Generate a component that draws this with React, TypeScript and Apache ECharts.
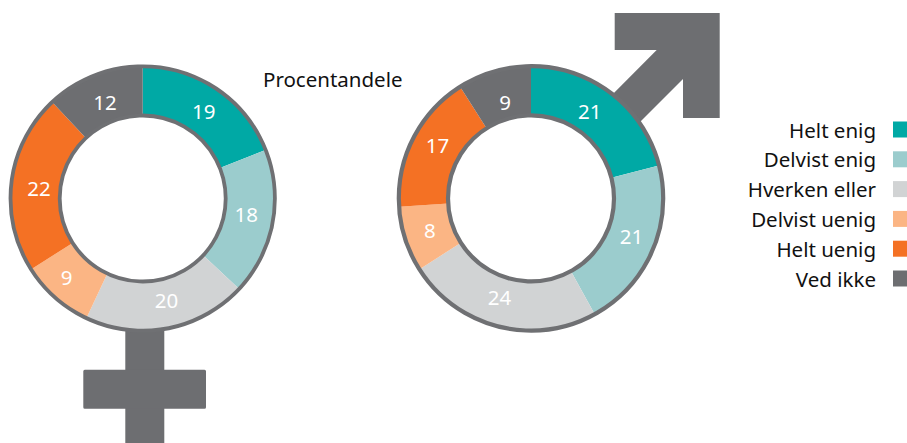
import React, { useEffect, useRef } from "react";
import * as echarts from "echarts";

const categories = ["Helt enig", "Delvist enig", "Hverken eller", "Delvist uenig", "Helt uenig", "Ved ikke"];
const womenValues = [19, 18, 20, 9, 22, 12];
const menValues = [21, 21, 24, 8, 17, 9];
const palette = ["#00A9A5", "#9BCCCD", "#D1D3D4", "#FBB584", "#F47124", "#6D6E71"];
const unitLabel = "Procentandele";

const womenNudges = [[-1, 4], [-5, -5], [3, -7], [-3, -4], [6, 3], [3, 6]];
const menNudges = [[-9, 0], [-1, -6], [-4, -8], [4, -3], [5, -3], [5, 10]];

const FONT = "'Noto Sans', sans-serif";
const W = 907;
const H = 443;
const GREY = "#6D6E71";
const RING = "#6F7073";
const leftC = [142.7, 198.5];
const rightC = [531, 198.4];

function pie(values: number[], center: number[], nudges: number[][]) {
  return {
    type: "pie",
    center,
    radius: [83, 132],
    startAngle: 90,
    clockwise: true,
    silent: true,
    color: palette,
    data: values.map((value, i) => ({ name: categories[i], value })),
    itemStyle: { borderWidth: 0 },
    label: {
      show: true,
      position: "inside",
      formatter: "{c}",
      color: "#FFFFFF",
      fontFamily: FONT,
      fontSize: 20.5,
    },
    labelLayout: (p: any) => ({ dx: nudges[p.dataIndex][0], dy: nudges[p.dataIndex][1] }),
    labelLine: { show: false },
    emphasis: { disabled: true },
  };
}

function ringCircles(c: number[], width: number) {
  return [132.2, 83].map((r) => ({
    type: "circle",
    z: 100,
    silent: true,
    shape: { cx: c[0], cy: c[1], r },
    style: { fill: "transparent", stroke: RING, lineWidth: width },
  }));
}

export default function App() {
  const ref = useRef<HTMLDivElement>(null);
  useEffect(() => {
    const chart = echarts.init(ref.current!, undefined, { renderer: "svg" });
    chart.setOption({
      animation: false,
      backgroundColor: "#FFFFFF",
      legend: {
        orient: "vertical",
        right: 0,
        top: 119,
        padding: 0,
        align: "right",
        selectedMode: false,
        icon: "rect",
        itemWidth: 14,
        itemHeight: 16,
        itemGap: 8.8,
        data: categories,
        textStyle: { fontFamily: FONT, fontSize: 20.5, color: "#111111", padding: [0, 12, 0, 0] },
      },
      series: [pie(womenValues, leftC, womenNudges), pie(menValues, rightC, menNudges)],
      graphic: {
        elements: [
          {
            type: "rect", z: 0, silent: true,
            shape: { x: 125.3, y: 325, width: 39, height: 118 },
            style: { fill: GREY },
          },
          {
            type: "rect", z: 0, silent: true,
            shape: { x: 83.3, y: 369.7, width: 122.7, height: 39, r: 1.5 },
            style: { fill: GREY },
          },
          {
            type: "polygon", z: 0, silent: true,
            shape: {
              points: [
                [614.7, 13], [719.7, 13], [719.7, 118], [683, 118], [683, 79],
                [625, 137], [598, 109], [656.7, 50], [614.7, 50],
              ],
            },
            style: { fill: GREY },
          },
          ...ringCircles(leftC, 3.8),
          ...ringCircles(rightC, 4.2),
          {
            type: "text", z: 100, silent: true,
            x: 263, y: 68,
            style: { text: unitLabel, fill: "#111111", fontFamily: FONT, fontSize: 20.5 },
          },
        ],
      },
    });
    return () => chart.dispose();
  }, []);
  return (
    <div style={{ position: "fixed", left: 0, top: 0, width: W, height: H, overflow: "hidden" }}>
      <div ref={ref} style={{ width: W, height: H }} />
    </div>
  );
}
